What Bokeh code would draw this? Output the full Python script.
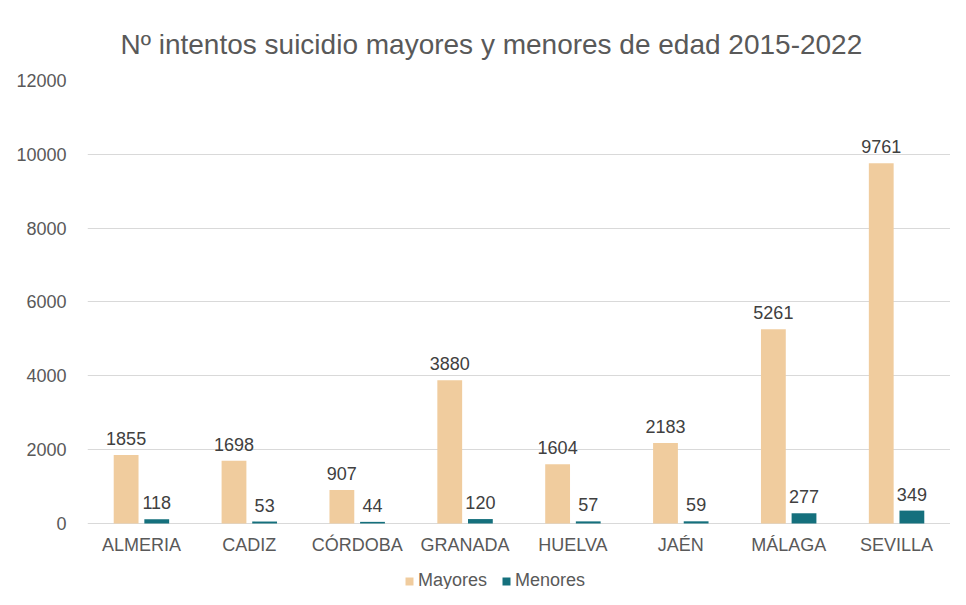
from bokeh.plotting import figure
from bokeh.models import ColumnDataSource, FactorRange, Range1d, FixedTicker, Legend, LegendItem
from bokeh.transform import dodge
from bokeh.core.properties import value
from bokeh.embed import file_html
from bokeh.resources import INLINE

categories = ["ALMERIA", "CADIZ", "CÓRDOBA", "GRANADA", "HUELVA", "JAÉN", "MÁLAGA", "SEVILLA"]
mayores = [1855, 1698, 907, 3880, 1604, 2183, 5261, 9761]
menores = [118, 53, 44, 120, 57, 59, 277, 349]
y_ticks = [0, 2000, 4000, 6000, 8000, 10000, 12000]

FONT = "Liberation Sans"
C_MAY = "#F0CC9E"
C_MEN = "#15707D"

src = ColumnDataSource(dict(
    cat=categories,
    mayores=mayores,
    menores=menores,
    base=[0] * len(categories),
    may_lbl=[str(v) for v in mayores],
    men_lbl=[str(v) for v in menores],
))

# frame extends below zero so that category labels and legend live inside it
p = figure(
    x_range=FactorRange(factors=categories, range_padding=0),
    y_range=Range1d(-1788, 12000),
    width=950, height=589,
    output_backend="svg", toolbar_location=None,
    min_border_left=87, min_border_right=0, min_border_top=80, min_border_bottom=0,
    title="Nº intentos suicidio mayores y menores de edad 2015-2022",
)
p.title.align = "left"
p.title.offset = 33
p.title.text_font = FONT
p.title.text_font_size = "28px"
p.title.text_font_style = "normal"
p.title.text_color = "#595959"
p.title.standoff = 41

r1 = p.vbar(x=dodge("cat", -0.142, range=p.x_range), top="mayores", width=0.23,
            source=src, fill_color=C_MAY, line_color=None)
r2 = p.vbar(x=dodge("cat", 0.142, range=p.x_range), top="menores", width=0.23,
            source=src, fill_color=C_MEN, line_color=None)

p.text(x=dodge("cat", -0.142, range=p.x_range), y="mayores", text="may_lbl", source=src,
       text_align="center", text_baseline="bottom", y_offset=-10,
       text_font=value(FONT), text_font_size="18px", text_color="#404040")
p.text(x=dodge("cat", 0.142, range=p.x_range), y="menores", text="men_lbl", source=src,
       text_align="center", text_baseline="bottom", y_offset=-10,
       text_font=value(FONT), text_font_size="18px", text_color="#404040")

# category labels under the baseline
p.text(x="cat", y="base", text="cat", source=src,
       text_align="center", text_baseline="middle", y_offset=22,
       text_font=value(FONT), text_font_size="18px", text_color="#595959")

p.outline_line_color = None
p.xaxis.visible = False
p.xgrid.grid_line_color = None
p.ygrid.grid_line_color = "#D9D9D9"
p.ygrid.ticker = FixedTicker(ticks=y_ticks)
p.yaxis.ticker = FixedTicker(ticks=y_ticks)
p.yaxis.axis_line_color = None
p.yaxis.major_tick_line_color = None
p.yaxis.minor_tick_line_color = None
p.yaxis.major_label_standoff = 15
p.yaxis.major_label_text_font = FONT
p.yaxis.major_label_text_font_size = "18px"
p.yaxis.major_label_text_color = "#595959"

legend = Legend(items=[LegendItem(label="Mayores", renderers=[r1]),
                       LegendItem(label="Menores", renderers=[r2])],
                orientation="horizontal", location=(317, -2),
                glyph_width=10, glyph_height=10, label_standoff=4, spacing=14,
                label_text_font=FONT, label_text_font_size="18px",
                label_text_color="#595959", border_line_color=None,
                background_fill_alpha=0, padding=0, margin=0)
p.add_layout(legend, "center")

open("out.html", "w").write(file_html(p, INLINE))
